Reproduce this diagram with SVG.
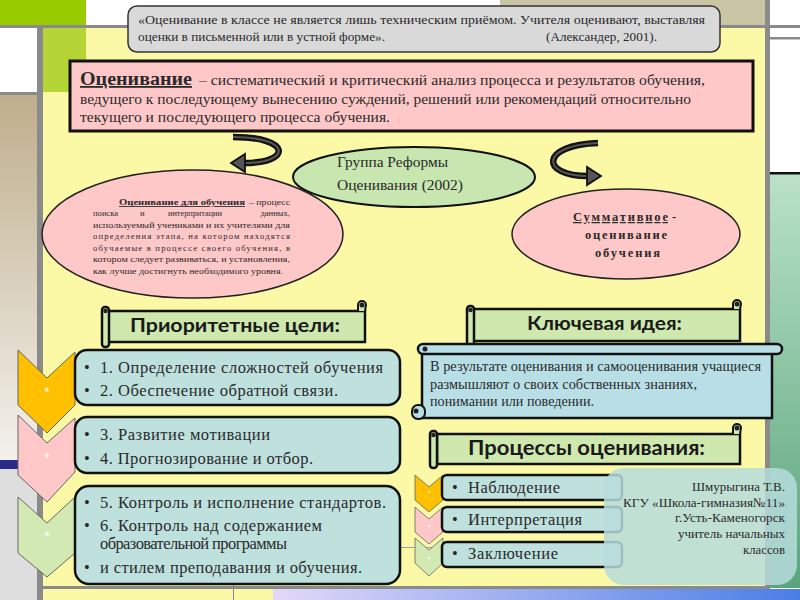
<svg xmlns="http://www.w3.org/2000/svg" width="800" height="600" viewBox="0 0 800 600">
<defs>
<style>
.serif{font-family:'Liberation Serif',serif;fill:#2a2a2a}
.sans{font-family:Lato,'Liberation Sans',sans-serif;fill:#1a1a1a;font-weight:bold}
.box{fill:#bfe1de;stroke:#111;stroke-width:2.5}
.ban{fill:#cfe8ae;stroke:#111;stroke-width:2.5}
.grid{fill:#8a8a8a}
.li{font-size:16.5px}
.sm{font-size:8.6px}
.arrow-o{fill:none;stroke:#111;stroke-width:6.5;stroke-linecap:butt}
.arrow-i{fill:none;stroke:#555;stroke-width:2.2}
</style>
<linearGradient id="tan" x1="0" y1="0" x2="0" y2="1"><stop offset="0" stop-color="#bfae8c"/><stop offset="1" stop-color="#f3f1ec"/></linearGradient>
<linearGradient id="mint" x1="0" y1="0" x2="0" y2="1"><stop offset="0" stop-color="#b9e2c9"/><stop offset="1" stop-color="#5aa47c"/></linearGradient>
<linearGradient id="blue" x1="0" y1="0" x2="1" y2="0"><stop offset="0" stop-color="#e2d8f8"/><stop offset="1" stop-color="#4a7ee6"/></linearGradient>
</defs>

<g id="background">
<rect x="0" y="0" width="800" height="600" fill="#ffffff"/>
<rect x="0" y="0" width="86" height="25" fill="#99cc00"/>
<rect x="500" y="0" width="265" height="25" fill="#c9c6a6"/>
<rect x="43" y="28" width="722" height="560" fill="#fbf9a6"/>
<rect x="43" y="28" width="43" height="64" fill="#b5d435"/>
<rect x="0" y="95" width="37" height="365" fill="url(#tan)"/>
<rect x="0" y="460" width="40" height="9" fill="#2b2b8c"/>
<rect x="0" y="469" width="37" height="131" fill="#dedede"/>
<rect x="770" y="174" width="30" height="414" fill="url(#mint)"/>
<rect x="770" y="172" width="30" height="2.5" fill="#111"/>
<rect x="273" y="589" width="527" height="11" fill="url(#blue)"/>
<rect x="43" y="589" width="230" height="11" fill="#fbf9a6"/>
<rect class="grid" x="0" y="25" width="800" height="3"/>
<rect class="grid" x="770" y="37" width="30" height="2.5"/>
<rect class="grid" x="0" y="92" width="43" height="3"/>
<rect class="grid" x="37" y="28" width="6" height="572"/>
<rect class="grid" x="765" y="0" width="5" height="589"/>
<rect class="grid" x="43" y="586" width="727" height="3"/>
<line x1="233.5" y1="537" x2="233.5" y2="600" stroke="#7f8a99" stroke-width="1"/>
<line x1="233" y1="547.5" x2="605" y2="547.5" stroke="#9aa3ad" stroke-width="1"/>
</g>

<g id="quote" font-family="'Liberation Serif', serif">
<rect x="128" y="6" width="592" height="46" rx="9" fill="#d9d9d9" stroke="#333" stroke-width="1.5"/>
<text class="serif" x="138" y="24" font-size="12" textLength="567" lengthAdjust="spacingAndGlyphs">«Оценивание в классе не является лишь техническим приёмом. Учителя оценивают, выставляя</text>
<text class="serif" x="138" y="41" font-size="12" textLength="247" lengthAdjust="spacingAndGlyphs">оценки в письменной или в устной форме».</text>
<text class="serif" x="546" y="41" font-size="12" textLength="111" lengthAdjust="spacingAndGlyphs">(Александер, 2001).</text>
</g>

<g id="definition" font-family="'Liberation Serif', serif">
<rect x="70" y="61" width="683" height="70" fill="#ffc8c8" stroke="#111" stroke-width="3"/>
<text class="serif" x="80" y="85" font-size="18" font-weight="bold" text-decoration="underline" textLength="112" lengthAdjust="spacingAndGlyphs">Оценивание</text>
<text class="serif" x="199" y="85" font-size="15.5" textLength="506" lengthAdjust="spacingAndGlyphs">– систематический и критический анализ процесса и  результатов обучения,</text>
<text class="serif" x="80" y="104" font-size="15.5" textLength="611" lengthAdjust="spacingAndGlyphs">ведущего к последующему вынесению суждений, решений или рекомендаций относительно</text>
<text class="serif" x="80" y="122" font-size="15.5" textLength="310" lengthAdjust="spacingAndGlyphs">текущего и  последующего процесса обучения.</text>
</g>

<g id="connectors">
<path class="arrow-o" d="M233,137 C292,137 292,163 244,163"/>
<path class="arrow-i" d="M233,137 C292,137 292,163 244,163"/>
<polygon points="231,163 245,154 245,172" fill="#555" stroke="#111" stroke-width="1.8"/>
<path class="arrow-o" d="M598,143 C540,145 540,176 588,176"/>
<path class="arrow-i" d="M598,143 C540,145 540,176 588,176"/>
<polygon points="601,176 587,167 587,185" fill="#555" stroke="#111" stroke-width="1.8"/>
</g>

<g id="group-reform" font-family="'Liberation Serif', serif">
<ellipse cx="414" cy="177" rx="121" ry="30" fill="#c8e6b0" stroke="#111" stroke-width="2"/>
<text class="serif" x="337" y="167" font-size="14.5" fill="#333" textLength="111" lengthAdjust="spacingAndGlyphs">Группа Реформы</text>
<text class="serif" x="337" y="190" font-size="14.5" fill="#333" textLength="126" lengthAdjust="spacingAndGlyphs">Оценивания (2002)</text>
</g>

<g id="formative" font-family="'Liberation Serif', serif">
<ellipse cx="192.5" cy="234" rx="150.5" ry="64" fill="#ffc8c8" stroke="#222" stroke-width="1.5"/>
<text class="serif sm" x="119" y="205" font-weight="bold" text-decoration="underline" textLength="126" lengthAdjust="spacingAndGlyphs">Оценивание для обучения </text>
<text class="serif sm" x="249" y="205" textLength="41" lengthAdjust="spacingAndGlyphs">– процесс</text>
<text class="serif sm" x="93" y="216">поиска</text>
<text class="serif sm" x="140" y="216">и</text>
<text class="serif sm" x="168" y="216" textLength="54" lengthAdjust="spacingAndGlyphs">интерпритации</text>
<text class="serif sm" x="290" y="216" text-anchor="end">данных,</text>
<text class="serif sm" x="93" y="227.5" textLength="197" lengthAdjust="spacingAndGlyphs">используемый учениками и их учителями для</text>
<text class="serif sm" x="93" y="239" textLength="197" lengthAdjust="spacing">определения этапа, на котором находятся</text>
<text class="serif sm" x="93" y="250.5" textLength="197" lengthAdjust="spacing">обучаемые в процессе своего обучения, в</text>
<text class="serif sm" x="93" y="262" textLength="197" lengthAdjust="spacingAndGlyphs">котором следует развиваться, и установления,</text>
<text class="serif sm" x="93" y="273.5" textLength="190" lengthAdjust="spacingAndGlyphs">как лучше достигнуть необходимого уровня.</text>
</g>

<g id="summative" font-family="'Liberation Serif', serif">
<ellipse cx="626" cy="234" rx="114" ry="45" fill="#ffc8c8" stroke="#222" stroke-width="1.5"/>
<text class="serif" x="573" y="221" font-size="12.5" font-weight="bold" text-decoration="underline" textLength="95" lengthAdjust="spacing">Суммативное</text>
<text class="serif" x="672" y="221" font-size="12.5" font-weight="bold">-</text>
<text class="serif" x="585" y="239" font-size="12.5" font-weight="bold" textLength="82" lengthAdjust="spacing">оценивание</text>
<text class="serif" x="595" y="257" font-size="12.5" font-weight="bold" textLength="65" lengthAdjust="spacing">обучения</text>
</g>

<g id="priority-banner">
<rect class="ban" x="108" y="311" width="257" height="31"/>
<path d="M358,311 L358,305 A4,4 0 0 1 366,305 L365,311" fill="#cfe8ae" stroke="#111" stroke-width="2"/>
<circle cx="362" cy="305" r="2.5" fill="#222"/>
<rect class="ban" x="102" y="307" width="7" height="40" rx="3" stroke-width="2"/>
<circle cx="105.5" cy="311" r="2.3" fill="#222"/>
<text class="sans" x="130" y="332" font-size="19" textLength="210" lengthAdjust="spacingAndGlyphs">Приоритетные цели:</text>
</g>

<g id="chevron-3">
<polygon points="18,497 47,523 75,497 75,553 47,577 18,553" fill="#d3e9b3" stroke="#666" stroke-width="1"/>
<text x="47" y="541" font-size="14" fill="#fff" text-anchor="middle" font-family="Liberation Sans, sans-serif">*</text>
</g>
<g id="chevron-2">
<polygon points="18,415 47,443 75,418 75,472 47,502 18,475" fill="#ffc8c8" stroke="#666" stroke-width="1"/>
<text x="47" y="463" font-size="14" fill="#fff" text-anchor="middle" font-family="Liberation Sans, sans-serif">*</text>
</g>
<g id="chevron-1">
<polygon points="18,350 47,378 75,352 75,405 47,433 18,405" fill="#ffc000" stroke="#666" stroke-width="1"/>
<text x="47" y="397" font-size="14" fill="#fff" text-anchor="middle" font-family="Liberation Sans, sans-serif">*</text>
</g>

<g id="goals-1" font-family="'Liberation Serif', serif">
<rect class="box" x="75" y="350" width="325" height="55" rx="12"/>
<text class="serif li" x="84" y="373">•</text>
<text class="serif li" x="100" y="373" textLength="283" lengthAdjust="spacing">1. Определение сложностей обучения</text>
<text class="serif li" x="84" y="396">•</text>
<text class="serif li" x="100" y="396" textLength="238" lengthAdjust="spacing">2. Обеспечение обратной связи.</text>
</g>
<g id="goals-2" font-family="'Liberation Serif', serif">
<rect class="box" x="75" y="417" width="325" height="56" rx="12"/>
<text class="serif li" x="84" y="440">•</text>
<text class="serif li" x="100" y="440" textLength="170" lengthAdjust="spacing">3. Развитие мотивации</text>
<text class="serif li" x="84" y="464">•</text>
<text class="serif li" x="100" y="464" textLength="213" lengthAdjust="spacing">4. Прогнозирование и отбор.</text>
</g>
<g id="goals-3" font-family="'Liberation Serif', serif">
<rect class="box" x="75" y="486" width="325" height="98" rx="14"/>
<text class="serif li" x="84" y="508">•</text>
<text class="serif li" x="100" y="508" textLength="286" lengthAdjust="spacing">5. Контроль и исполнение стандартов.</text>
<text class="serif li" x="84" y="531">•</text>
<text class="serif li" x="100" y="531" textLength="222" lengthAdjust="spacing">6. Контроль над содержанием</text>
<text class="serif li" x="100" y="549" textLength="187" lengthAdjust="spacing">образовательной программы</text>
<text class="serif li" x="84" y="573">•</text>
<text class="serif li" x="100" y="573" textLength="262" lengthAdjust="spacing">и стилем преподавания и обучения.</text>
</g>

<g id="key-banner">
<rect class="ban" x="473" y="309" width="267" height="32"/>
<path d="M733,309 L733,304 A4,4 0 0 1 741,304 L740,309" fill="#cfe8ae" stroke="#111" stroke-width="2"/>
<circle cx="737" cy="304" r="2.5" fill="#222"/>
<rect class="ban" x="467" y="306" width="7" height="42" rx="3" stroke-width="2"/>
<circle cx="470.5" cy="310" r="2.3" fill="#222"/>
<text class="sans" x="527" y="330" font-size="19" textLength="155" lengthAdjust="spacingAndGlyphs">Ключевая идея:</text>
</g>

<g id="key-idea" font-family="'Liberation Serif', serif">
<rect x="422" y="352" width="350" height="66" fill="#b9dfe6" stroke="#111" stroke-width="2.5"/>
<rect x="418" y="344" width="364" height="10" rx="5" fill="#b9dfe6" stroke="#111" stroke-width="2.5"/>
<circle cx="425" cy="349" r="2.5" fill="#222"/>
<rect x="412" y="405" width="13" height="14" rx="6" fill="#b9dfe6" stroke="#111" stroke-width="2"/>
<circle cx="416" cy="411" r="2.5" fill="#222"/>
<text class="serif" x="430" y="371" font-size="14" fill="#333" textLength="331" lengthAdjust="spacingAndGlyphs">В результате оценивания и самооценивания учащиеся</text>
<text class="serif" x="430" y="389" font-size="14" fill="#333" textLength="267" lengthAdjust="spacingAndGlyphs">размышляют о своих собственных знаниях,</text>
<text class="serif" x="430" y="406" font-size="14" fill="#333" textLength="164" lengthAdjust="spacingAndGlyphs">понимании или поведении.</text>
</g>

<g id="process-banner">
<rect class="ban" x="437" y="434" width="303" height="30"/>
<path d="M733,434 L733,428 A4,4 0 0 1 741,428 L740,434" fill="#cfe8ae" stroke="#111" stroke-width="2"/>
<circle cx="737" cy="428" r="2.5" fill="#222"/>
<rect class="ban" x="430" y="431" width="7" height="37" rx="3" stroke-width="2"/>
<circle cx="433.5" cy="435" r="2.3" fill="#222"/>
<text class="sans" x="468" y="455" font-size="20" textLength="237" lengthAdjust="spacingAndGlyphs">Процессы оценивания:</text>
</g>

<g id="small-chevron-3">
<polygon points="415,538 429,550 443,538 443,563 429,576 415,563" fill="#d3e9b3" stroke="#666" stroke-width="0.8"/>
<circle cx="429" cy="558" r="1" fill="#fff"/>
</g>
<g id="small-chevron-2">
<polygon points="415,507 429,519 443,507 443,532 429,544 415,532" fill="#ffc8c8" stroke="#666" stroke-width="0.8"/>
<circle cx="429" cy="526" r="1" fill="#fff"/>
</g>
<g id="small-chevron-1">
<polygon points="415,475 429,487 443,475 443,500 429,512 415,500" fill="#ffc000" stroke="#666" stroke-width="0.8"/>
<circle cx="429" cy="492" r="1" fill="#fff"/>
</g>

<g id="proc-1" font-family="'Liberation Serif', serif">
<rect class="box" x="442" y="475" width="180" height="25" rx="5"/>
<text class="serif li" x="452" y="493">•</text>
<text class="serif li" x="468" y="493" textLength="92" lengthAdjust="spacing">Наблюдение</text>
</g>
<g id="proc-2" font-family="'Liberation Serif', serif">
<rect class="box" x="442" y="507" width="180" height="25" rx="5"/>
<text class="serif li" x="452" y="525">•</text>
<text class="serif li" x="468" y="525" textLength="114" lengthAdjust="spacing">Интерпретация</text>
</g>
<g id="proc-3" font-family="'Liberation Serif', serif">
<rect class="box" x="442" y="542" width="180" height="25" rx="5"/>
<text class="serif li" x="452" y="559">•</text>
<text class="serif li" x="468" y="559" textLength="90" lengthAdjust="spacing">Заключение</text>
</g>

<g id="author" font-family="'Liberation Serif', serif">
<rect x="604" y="468" width="193" height="117" rx="20" fill="#b6dcdc" fill-opacity="0.85"/>
<text class="serif" x="692" y="491" font-size="13" fill="#333" textLength="93" lengthAdjust="spacingAndGlyphs">Шмурыгина Т.В.</text>
<text class="serif" x="623" y="507" font-size="13" fill="#333" textLength="162" lengthAdjust="spacingAndGlyphs">КГУ «Школа-гимназия№11»</text>
<text class="serif" x="675" y="522" font-size="13" fill="#333" textLength="110" lengthAdjust="spacingAndGlyphs">г.Усть-Каменогорск</text>
<text class="serif" x="678" y="538" font-size="13" fill="#333" textLength="107" lengthAdjust="spacingAndGlyphs">учитель начальных</text>
<text class="serif" x="743" y="554" font-size="13" fill="#333" textLength="42" lengthAdjust="spacingAndGlyphs">классов</text>
</g>
</svg>
